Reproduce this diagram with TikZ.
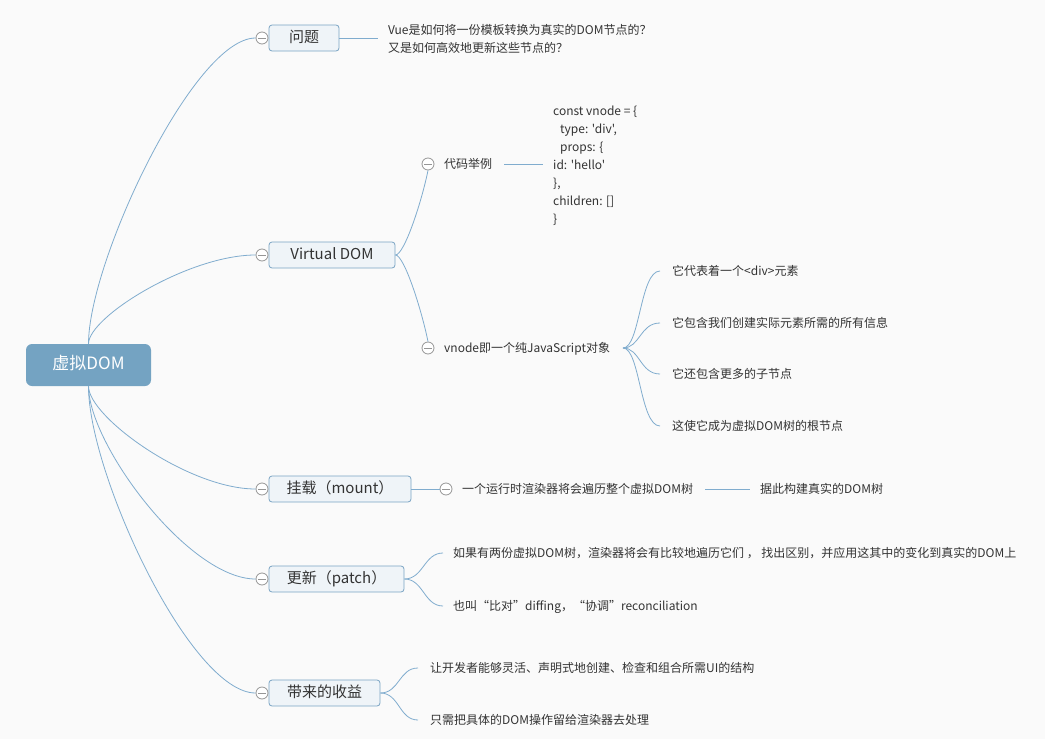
\documentclass[tikz,border=0pt]{standalone}
\usepackage{fontspec}
\setmainfont{Noto Sans CJK SC}[Ligatures=TeXOff]
\definecolor{bgc}{RGB}{250,250,250}
\definecolor{rootc}{RGB}{116,163,194}
\definecolor{boxf}{RGB}{239,244,248}
\definecolor{boxb}{RGB}{122,164,196}
\definecolor{linec}{RGB}{128,172,206}
\definecolor{togc}{RGB}{150,150,150}
\definecolor{txtc}{RGB}{51,51,51}
\begin{document}
\begin{tikzpicture}[x=1pt,y=-1pt,
  conn/.style={draw=linec, line width=0.8pt},
  rootnode/.style={fill=rootc, rounded corners=6pt, minimum width=125pt, minimum height=42pt, inner sep=0pt, text=white, font=\fontsize{17}{19}\selectfont, text height=0.95em, text depth=0pt},
  l1/.style={draw=boxb, fill=boxf, rounded corners=3pt, line width=0.8pt, minimum height=26pt, inner sep=0pt, text=txtc, font=\fontsize{15}{17}\selectfont, text height=0.95em, text depth=0pt},
  tog/.style={circle, draw=togc, fill=white, line width=0.8pt, minimum size=12pt, inner sep=0pt, path picture={\draw[togc, line width=0.8pt] ([xshift=-3.6pt]path picture bounding box.center) -- ([xshift=3.6pt]path picture bounding box.center);}},
  lbl/.style={anchor=west, inner sep=0pt, text=txtc, font=\fontsize{12}{14}\selectfont, text height=0.8em, text depth=0pt},
  para/.style={anchor=base west, inner sep=0pt, text=txtc, align=left, font=\fontsize{12}{18}\selectfont},
]
\fill[bgc] (0,0) rectangle (1045,739);
\useasboundingbox (0,0) rectangle (1045,739);

% root
\node[rootnode] (root) at (88.5,365) {虚拟DOM};

% level 1 boxes
\node[l1, minimum width=70pt] (q) at (304,38) {问题};
\node[l1, minimum width=126pt] (vd) at (332,255) {Virtual DOM};
\node[l1, minimum width=142pt] (m) at (340,489) {挂载（mount）};
\node[l1, minimum width=135pt] (u) at (336.5,579) {更新（patch）};
\node[l1, minimum width=111pt] (b) at (324.5,693) {带来的收益};

% toggles
\node[tog] (tq) at (262,38) {};
\node[tog] (tvd) at (262,255) {};
\node[tog] (tm) at (262,489) {};
\node[tog] (tu) at (262,579) {};
\node[tog] (tb) at (262,693) {};

% root connectors
\draw[conn] (root.north) .. controls +(0,-82) and +(-62,0) .. (tq.west);
\draw[conn] (root.north) .. controls +(0,-27) and +(-67,0) .. (tvd.west);
\draw[conn] (root.south) .. controls +(0,31) and +(-67,0) .. (tm.west);
\draw[conn] (root.south) .. controls +(0,58) and +(-67,0) .. (tu.west);
\draw[conn] (root.south) .. controls +(0,88) and +(-65,0) .. (tb.west);

% 问题
\node[para] (qt) at (388,52.6) {Vue是如何将一份模板转换为真实的DOM节点的？\\又是如何高效地更新这些节点的？};
\draw[conn] (q.east) -- ([xshift=-10pt]qt.west |- q.east);

% Virtual DOM children
\node[tog] (tc) at (428,164) {};
\node[lbl] (c) at (444,164) {代码举例};
\node[para] (code) at (553,223.6) {const vnode = \{\\\hspace*{7pt}type: 'div',\\\hspace*{7pt}props: \{\\id: 'hello'\\\},\\children: []\\\}};
\draw[conn] ([xshift=12pt]c.east) -- ([xshift=-10pt]code.west |- c.east);
\draw[conn] (vd.east) .. controls +(9,0) and +(-6,30) .. (tc.south);

\node[tog] (tv) at (428,348) {};
\node[lbl] (v) at (444,348) {vnode即一个纯JavaScript对象};
\draw[conn] (vd.east) .. controls +(9,0) and +(-6,-30) .. (tv.north);

\node[lbl] (v1) at (672,271) {它代表着一个<div>元素};
\node[lbl] (v2) at (672,323) {它包含我们创建实际元素所需的所有信息};
\node[lbl] (v3) at (672,374) {它还包含更多的子节点};
\node[lbl] (v4) at (672,426) {这使它成为虚拟DOM树的根节点};
\coordinate (vs) at (623,348);
\foreach \t in {v1,v2,v3,v4}
  \draw[conn] (vs) .. controls +(17,0) and +(-20,0) .. ([xshift=-12pt]\t.west);

% mount
\node[tog] (tm2) at (446,489) {};
\node[lbl] (m1) at (462,489) {一个运行时渲染器将会遍历整个虚拟DOM树};
\node[lbl] (m2) at (760,489) {据此构建真实的DOM树};
\draw[conn] (m.east) -- (tm2.west);
\draw[conn] ([xshift=12pt]m1.east) -- ([xshift=-10pt]m2.west);

% patch
\node[lbl] (u1) at (453,553) {如果有两份虚拟DOM树，渲染器将会有比较地遍历它们 ， 找出区别，并应用这其中的变化到真实的DOM上};
\node[lbl] (u2) at (453,606) {也叫“比对”diffing，“协调”reconciliation};
\draw[conn] (u.east) .. controls +(19,0) and +(-19,0) .. ([xshift=-10pt]u1.west);
\draw[conn] (u.east) .. controls +(19,0) and +(-19,0) .. ([xshift=-10pt]u2.west);

% benefits
\node[lbl] (b1) at (430,668) {让开发者能够灵活、声明式地创建、检查和组合所需UI的结构};
\node[lbl] (b2) at (430,720) {只需把具体的DOM操作留给渲染器去处理};
\draw[conn] (b.east) .. controls +(19,0) and +(-19,0) .. ([xshift=-12pt]b1.west);
\draw[conn] (b.east) .. controls +(19,0) and +(-19,0) .. ([xshift=-12pt]b2.west);
\end{tikzpicture}
\end{document}
